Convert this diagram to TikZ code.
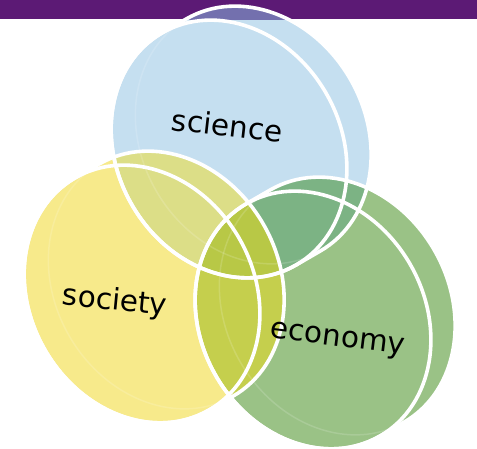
\documentclass[tikz,border=0pt]{standalone}
\usepackage{fontspec}
\setmainfont{DejaVu Sans}
\definecolor{barpurple}{HTML}{5C1A75}
\definecolor{scifill}{HTML}{C5DFF0}
\definecolor{socfill}{HTML}{F7EA8B}
\definecolor{ecofill}{HTML}{9AC286}
\definecolor{scibar}{HTML}{7370AE}
\definecolor{scisoc}{HTML}{DCDE87}
\definecolor{scieco}{HTML}{7CB384}
\definecolor{soceco}{HTML}{C5CF4D}
\definecolor{allthree}{HTML}{B8C846}
% tilted disc: back face on top, front face below
\newcommand\coin{(134,28) arc[start angle=0,end angle=180,x radius=134,y radius=112] -- (-134,0) arc[start angle=180,end angle=360,x radius=134,y radius=112] -- cycle}

\begin{document}
\begin{tikzpicture}[x=1pt,y=1pt]
\tikzstyle{science}=[shift={(229,300)},rotate=-60]
\tikzstyle{society}=[shift={(142,155)},rotate=-60]
\tikzstyle{economy}=[shift={(313,129)},rotate=-60]
\tikzstyle{rim}=[draw=white,line width=3.6pt]
\tikzstyle{setname}=[font=\fontsize{29.5}{35}\selectfont,inner sep=0pt,anchor=base]
\useasboundingbox (0,0) rectangle (477,449);
\fill[barpurple] (0,429.5) rectangle (477,449);
% the three sets
\fill[scifill,science] \coin;
\begin{scope}
\clip (0,429.5) rectangle (477,449);
\fill[scibar,science] \coin;
\end{scope}
\fill[socfill,society] \coin;
\fill[ecofill,economy] \coin;
% overlaps
\begin{scope}
\clip[society] \coin;
\fill[soceco,economy] \coin;
\end{scope}
\begin{scope}
\clip[science] \coin;
\fill[scisoc,society] \coin;
\fill[scieco,economy] \coin;
\clip[society] \coin;
\fill[allthree,economy] \coin;
\end{scope}
% white rims
\foreach \set in {science,society,economy}{
  \draw[white,opacity=0.15,line width=1.5pt,\set] (-134,28) arc[start angle=180,end angle=360,x radius=134,y radius=112];
  \draw[rim,\set] \coin;
  \draw[rim,\set] (0,0) ellipse [x radius=134,y radius=112];
}
\foreach \name/\point/\angle in {
	science/{226,312.5}/-6.5,
	society/{114,139}/-5.5,
	economy/{337,103}/-7}
	\node[setname,rotate=\angle] (\name) at (\point) {\name};
\end{tikzpicture}
\end{document}
